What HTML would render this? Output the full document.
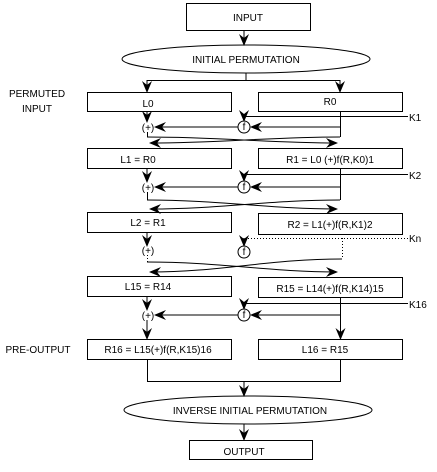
<!DOCTYPE html>
<html><head><style>
body{margin:0;background:#fff}
text{font-family:"Liberation Sans",sans-serif;font-size:10px;fill:#000}
</style></head><body>
<svg width="437" height="467" viewBox="0 0 437 467" xmlns="http://www.w3.org/2000/svg">
<defs>
<marker id="a" markerWidth="12" markerHeight="10" refX="11" refY="5" orient="auto" markerUnits="userSpaceOnUse">
<path d="M0,0 L12,5 L0,10 L4,5z" fill="#000"/></marker>
</defs>
<g fill="none" stroke="#000" stroke-width="1">
<rect x="186.5" y="3.5" width="124" height="27"/>
<line x1="244" y1="30" x2="244" y2="45" marker-end="url(#a)"/>
<ellipse cx="246" cy="59" rx="124" ry="14"/>
<line x1="246" y1="73" x2="246" y2="80"/>
<line x1="147" y1="80.5" x2="340" y2="80.5"/>
<line x1="147" y1="80" x2="147" y2="92" marker-end="url(#a)"/>
<line x1="340" y1="80" x2="340" y2="92" marker-end="url(#a)"/>
<rect x="87.5" y="92.5" width="144" height="19"/>
<rect x="258.5" y="92.5" width="144" height="19"/>
<!-- round 1 -->
<line x1="147" y1="111" x2="147" y2="122" marker-end="url(#a)"/>
<polyline points="408,116.5 244,116.5"/>
<line x1="244" y1="116" x2="244" y2="121" marker-end="url(#a)"/>
<circle cx="244" cy="127" r="6"/>
<line x1="340.5" y1="111" x2="340.5" y2="137"/>
<line x1="340" y1="127" x2="251" y2="127" marker-end="url(#a)"/>
<line x1="238" y1="127" x2="155" y2="127" marker-end="url(#a)"/>
<line x1="147.5" y1="132" x2="147.5" y2="137"/>
<path d="M147,137 C220,137 270,143 337,143" marker-end="url(#a)"/>
<path d="M340,137 C270,137 220,143 150,143" marker-end="url(#a)"/>
<rect x="87.5" y="148.5" width="144" height="20"/>
<rect x="258.5" y="148.5" width="144" height="20"/>
<!-- round 2 -->
<line x1="147" y1="168" x2="147" y2="182" marker-end="url(#a)"/>
<polyline points="408,174.5 244,174.5"/>
<line x1="244" y1="174" x2="244" y2="181" marker-end="url(#a)"/>
<circle cx="244" cy="187" r="6"/>
<line x1="340.5" y1="168" x2="340.5" y2="200"/>
<line x1="340" y1="187" x2="251" y2="187" marker-end="url(#a)"/>
<line x1="238" y1="187" x2="155" y2="187" marker-end="url(#a)"/>
<line x1="147.5" y1="192" x2="147.5" y2="200"/>
<path d="M147,200 C220,200 270,209 337,209" marker-end="url(#a)"/>
<path d="M340,200 C270,200 220,209 150,209" marker-end="url(#a)"/>
<rect x="87.5" y="212.5" width="144" height="20"/>
<rect x="258.5" y="213.5" width="144" height="21"/>
<!-- round n dotted -->
<line x1="147" y1="232" x2="147" y2="246" marker-end="url(#a)"/>
<polyline points="408,238.5 244,238.5" stroke-dasharray="1,2"/>
<line x1="244" y1="238" x2="244" y2="246" marker-end="url(#a)"/>
<circle cx="244" cy="252" r="6"/>
<line x1="342.5" y1="238" x2="342.5" y2="259" stroke-dasharray="1,2"/>
<line x1="147.5" y1="255" x2="147.5" y2="262" stroke-dasharray="1,2"/>
<path d="M147,262 C220,262 270,272 337,272" marker-end="url(#a)"/>
<path d="M342,259 C270,259 220,272 150,272" marker-end="url(#a)"/>
<rect x="87.5" y="276.5" width="144" height="20"/>
<rect x="258.5" y="277.5" width="144" height="20"/>
<!-- round 16 -->
<line x1="147" y1="296" x2="147" y2="310" marker-end="url(#a)"/>
<polyline points="408,303.5 244,303.5"/>
<line x1="244" y1="303" x2="244" y2="309" marker-end="url(#a)"/>
<circle cx="244" cy="315" r="6"/>
<line x1="340.5" y1="297" x2="340.5" y2="339" marker-end="url(#a)"/>
<line x1="340" y1="315" x2="251" y2="315" marker-end="url(#a)"/>
<line x1="238" y1="315" x2="155" y2="315" marker-end="url(#a)"/>
<line x1="147" y1="320" x2="147" y2="339" marker-end="url(#a)"/>
<rect x="87.5" y="339.5" width="144" height="20"/>
<rect x="258.5" y="339.5" width="144" height="20"/>
<polyline points="147.5,360 147.5,381.5 340.5,381.5 340.5,360"/>
<line x1="244" y1="381" x2="244" y2="396" marker-end="url(#a)"/>
<ellipse cx="248" cy="410" rx="124" ry="14"/>
<line x1="244" y1="424" x2="244" y2="440" marker-end="url(#a)"/>
<rect x="189.5" y="440.5" width="123" height="19"/>
</g>
<g text-anchor="middle">
<text x="248" y="21">INPUT</text>
<text x="246" y="63">INITIAL PERMUTATION</text>
<text x="148" y="107">L0</text>
<text x="330" y="105">R0</text>
<text x="148" y="131" font-size="9">(+)</text>
<text x="244" y="130" font-size="8">f</text>
<text x="138" y="163">L1 = R0</text>
<text x="330" y="163">R1 = L0 (+)f(R,K0)1</text>
<text x="148" y="191" font-size="9">(+)</text>
<text x="244" y="190" font-size="8">f</text>
<text x="148" y="226">L2 = R1</text>
<text x="330" y="228">R2 = L1(+)f(R,K1)2</text>
<text x="148" y="254" font-size="9">(+)</text>
<text x="244" y="255" font-size="8">f</text>
<text x="148" y="290">L15 = R14</text>
<text x="330" y="292">R15 = L14(+)f(R,K14)15</text>
<text x="148" y="319" font-size="9">(+)</text>
<text x="244" y="318" font-size="8">f</text>
<text x="158" y="353">R16 = L15(+)f(R,K15)16</text>
<text x="325" y="353">L16 = R15</text>
<text x="250" y="414">INVERSE INITIAL PERMUTATION</text>
<text x="244" y="455">OUTPUT</text>
<text x="37" y="97">PERMUTED</text>
<text x="37" y="112">INPUT</text>
<text x="38" y="353">PRE-OUTPUT</text>
</g>
<text x="409" y="121">K1</text>
<text x="409" y="179">K2</text>
<text x="409" y="242">Kn</text>
<text x="409" y="308">K16</text>
</svg>
</body></html>
